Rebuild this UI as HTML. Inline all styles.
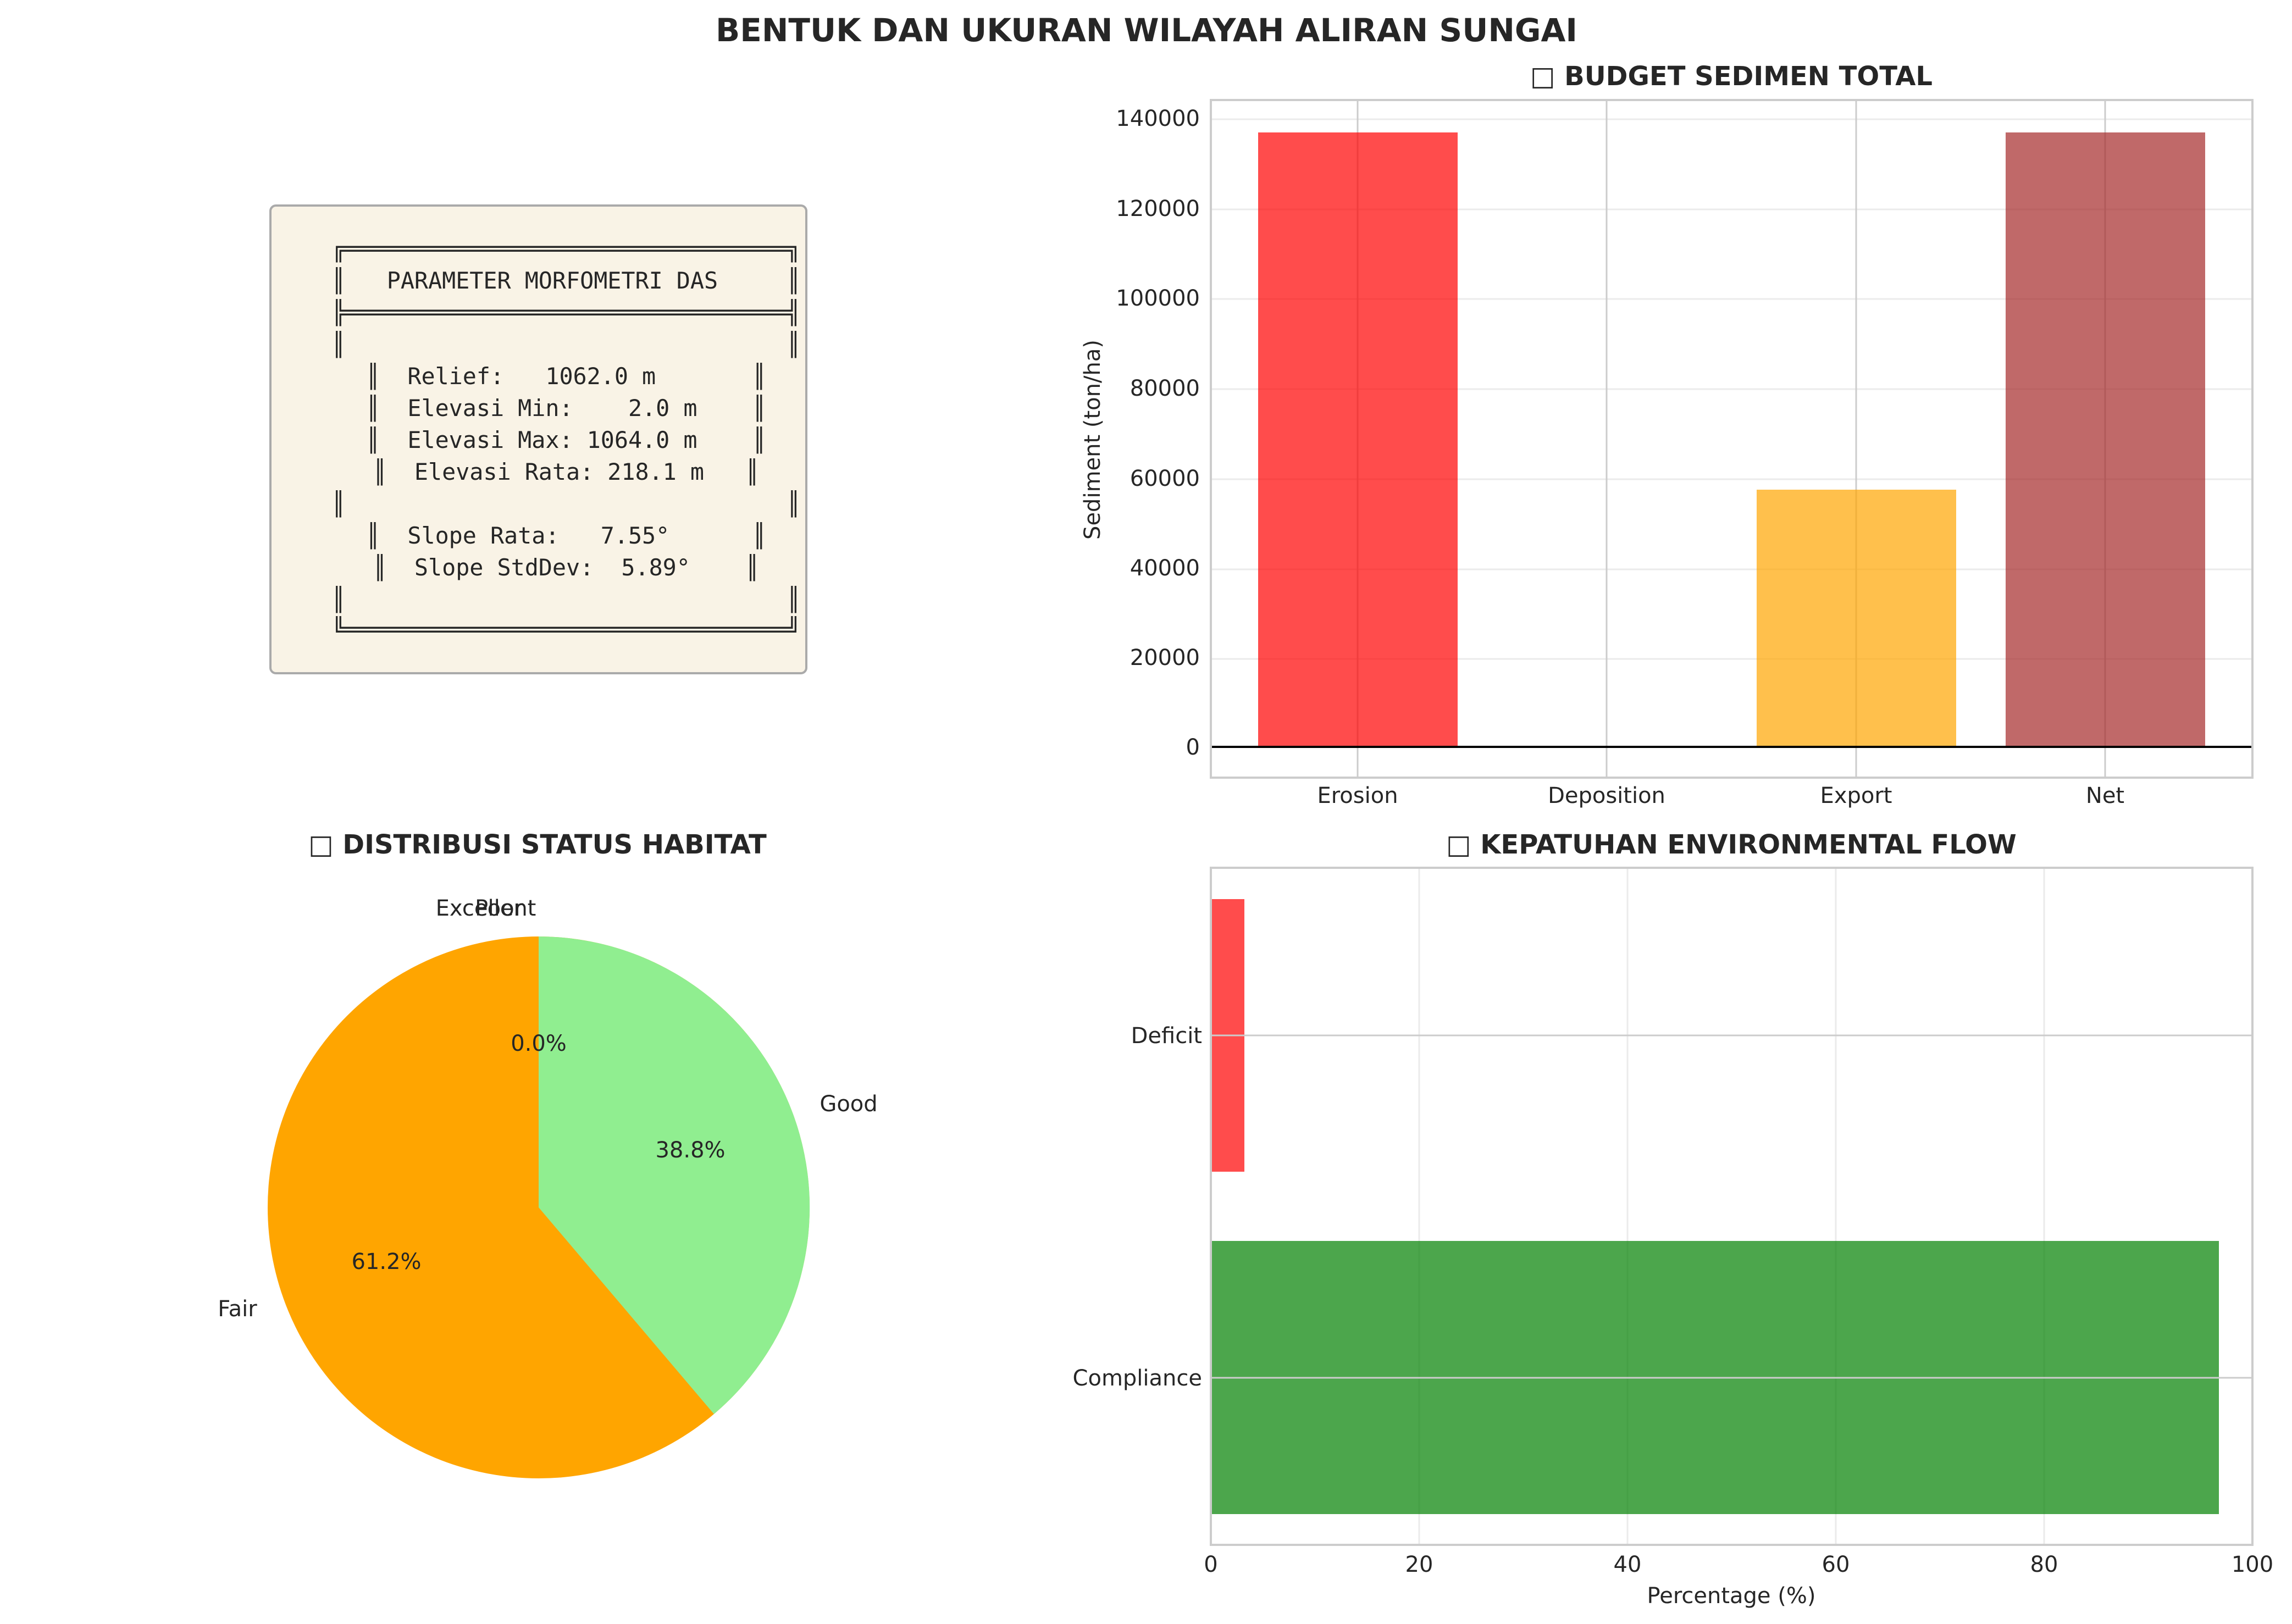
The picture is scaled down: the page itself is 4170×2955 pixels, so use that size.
<!DOCTYPE html>
<html><head><meta charset="utf-8"><style>
html,body{margin:0;padding:0;background:#fff;}
svg{display:block;}
text{font-family:"DejaVu Sans","Liberation Sans",sans-serif;fill:#262626;}
.mono{font-family:"DejaVu Sans Mono","Liberation Mono",monospace;font-size:41.7px;white-space:pre;}
</style></head><body>
<svg width="4170" height="2955" viewBox="0 0 4170 2955" xmlns="http://www.w3.org/2000/svg">
<rect width="4170" height="2955" fill="#fff"/>
<text x="2086" y="75" font-size="58" font-weight="bold" text-anchor="middle" textLength="1568" lengthAdjust="spacingAndGlyphs">BENTUK DAN UKURAN WILAYAH ALIRAN SUNGAI</text>

<!-- Text box -->
<rect x="492" y="374" width="975" height="851" rx="10" fill="#f9f3e6" stroke="#aaaaaa" stroke-width="4"/>
<g class="mono" text-anchor="middle">
<text class="mono" x="1030" y="467">╔════════════════════════════════╗</text>
<text class="mono" x="1030" y="525">║   PARAMETER MORFOMETRI DAS     ║</text>
<text class="mono" x="1030" y="583">╠════════════════════════════════╣</text>
<text class="mono" x="1030" y="641">║                                ║</text>
<text class="mono" x="1030" y="699">║  Relief:   1062.0 m       ║</text>
<text class="mono" x="1030" y="757">║  Elevasi Min:    2.0 m    ║</text>
<text class="mono" x="1030" y="815">║  Elevasi Max: 1064.0 m    ║</text>
<text class="mono" x="1030" y="873">║  Elevasi Rata: 218.1 m   ║</text>
<text class="mono" x="1030" y="931">║                                ║</text>
<text class="mono" x="1030" y="989">║  Slope Rata:   7.55°      ║</text>
<text class="mono" x="1030" y="1047">║  Slope StdDev:  5.89°    ║</text>
<text class="mono" x="1030" y="1105">║                                ║</text>
<text class="mono" x="1030" y="1160">╚════════════════════════════════╝</text>
</g>

<!-- Top-right bar chart -->
<text x="3150" y="155" font-size="48" font-weight="bold" text-anchor="middle">□ BUDGET SEDIMEN TOTAL</text>
<g stroke="#ebebeb" stroke-width="3">
<line x1="2203" x2="4098" y1="217" y2="217"/>
<line x1="2203" x2="4098" y1="381" y2="381"/>
<line x1="2203" x2="4098" y1="544" y2="544"/>
<line x1="2203" x2="4098" y1="708" y2="708"/>
<line x1="2203" x2="4098" y1="872" y2="872"/>
<line x1="2203" x2="4098" y1="1036" y2="1036"/>
<line x1="2203" x2="4098" y1="1199" y2="1199"/>
</g>
<g stroke="#cccccc" stroke-width="3">
<line x1="2470" x2="2470" y1="182" y2="1415"/>
<line x1="2923" x2="2923" y1="182" y2="1415"/>
<line x1="3377" x2="3377" y1="182" y2="1415"/>
<line x1="3830" x2="3830" y1="182" y2="1415"/>
</g>
<rect x="2289" y="241" width="363" height="1118" fill="#ff0000" fill-opacity="0.7"/>
<rect x="3196" y="891" width="363" height="468" fill="#ffa500" fill-opacity="0.7"/>
<rect x="3649" y="241" width="363" height="1118" fill="#a52a2a" fill-opacity="0.7"/>
<line x1="2203" x2="4098" y1="1359" y2="1359" stroke="#000" stroke-width="4"/>
<rect x="2203" y="182" width="1895" height="1233" fill="none" stroke="#cccccc" stroke-width="4"/>
<g font-size="40" text-anchor="end">
<text x="2183" y="229">140000</text>
<text x="2183" y="393">120000</text>
<text x="2183" y="556">100000</text>
<text x="2183" y="720">80000</text>
<text x="2183" y="884">60000</text>
<text x="2183" y="1047">40000</text>
<text x="2183" y="1210">20000</text>
<text x="2183" y="1373">0</text>
</g>
<g font-size="40" text-anchor="middle">
<text x="2470" y="1461">Erosion</text>
<text x="2923" y="1461">Deposition</text>
<text x="3377" y="1461">Export</text>
<text x="3830" y="1461">Net</text>
</g>
<text font-size="40" text-anchor="middle" transform="translate(2001,800) rotate(-90)">Sediment (ton/ha)</text>

<!-- Pie -->
<text x="978" y="1553" font-size="48" font-weight="bold" text-anchor="middle">□ DISTRIBUSI STATUS HABITAT</text>
<circle cx="980" cy="2197" r="493" fill="#ffa500"/>
<path d="M980,2197 L980,1704 A493,493 0 0 1 1299,2573 Z" fill="#90ee90"/>
<g font-size="40" text-anchor="middle">
<text x="884" y="1666">Excellent</text>
<text x="908" y="1666">Poor</text>
<text x="1544" y="2022">Good</text>
<text x="432" y="2395">Fair</text>
<text x="980" y="1912">0.0%</text>
<text x="1256" y="2106">38.8%</text>
<text x="703" y="2309">61.2%</text>
</g>

<!-- Bottom-right hbar -->
<text x="3150" y="1553" font-size="48" font-weight="bold" text-anchor="middle">□ KEPATUHAN ENVIRONMENTAL FLOW</text>
<g stroke="#ebebeb" stroke-width="3">
<line x1="2582" x2="2582" y1="1579" y2="2811"/>
<line x1="2961" x2="2961" y1="1579" y2="2811"/>
<line x1="3340" x2="3340" y1="1579" y2="2811"/>
<line x1="3719" x2="3719" y1="1579" y2="2811"/>
</g>
<rect x="2203" y="1636" width="61" height="496" fill="#ff0000" fill-opacity="0.7"/>
<rect x="2203" y="2258" width="1834" height="497" fill="#008000" fill-opacity="0.7"/>
<g stroke="#cccccc" stroke-width="3">
<line x1="2203" x2="4098" y1="1884" y2="1884"/>
<line x1="2203" x2="4098" y1="2507" y2="2507"/>
</g>
<rect x="2203" y="1579" width="1895" height="1232" fill="none" stroke="#cccccc" stroke-width="4"/>
<g font-size="40" text-anchor="end">
<text x="2187" y="1898">Deficit</text>
<text x="2187" y="2521">Compliance</text>
</g>
<g font-size="40" text-anchor="middle">
<text x="2203" y="2860">0</text>
<text x="2582" y="2860">20</text>
<text x="2961" y="2860">40</text>
<text x="3340" y="2860">60</text>
<text x="3719" y="2860">80</text>
<text x="4098" y="2860">100</text>
<text x="3150" y="2917">Percentage (%)</text>
</g>
</svg>
</body></html>
